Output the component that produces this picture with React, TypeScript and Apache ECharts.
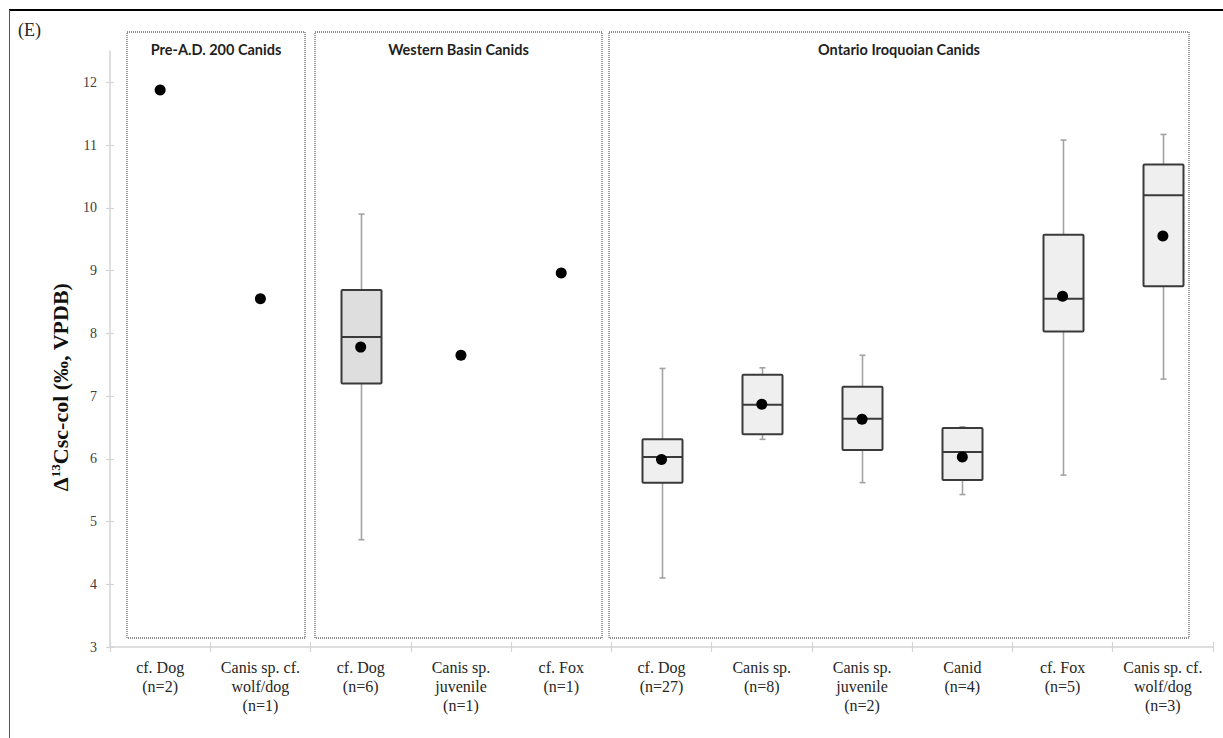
import React, { useEffect, useRef } from "react";
import * as echarts from "echarts";

// Category labels along the x axis (group order: Pre-A.D. 200, Western Basin, Ontario Iroquoian)
const categories = [
  "cf. Dog\n(n=2)",
  "Canis sp. cf.\nwolf/dog\n(n=1)",
  "cf. Dog\n(n=6)",
  "Canis sp.\njuvenile\n(n=1)",
  "cf. Fox\n(n=1)",
  "cf. Dog\n(n=27)",
  "Canis sp.\n(n=8)",
  "Canis sp.\njuvenile\n(n=2)",
  "Canid\n(n=4)",
  "cf. Fox\n(n=5)",
  "Canis sp. cf.\nwolf/dog\n(n=3)",
];

// Mean value for every category (black dots)
const means = [11.88, 8.55, 7.78, 7.65, 8.96, 5.99, 6.87, 6.63, 6.03, 8.59, 9.55];

// Box statistics: [category index, min, Q1, median, Q3, max]
const westernBoxes = [[2, 4.71, 7.2, 7.94, 8.69, 9.9]];
const ontarioBoxes = [
  [5, 4.1, 5.62, 6.03, 6.31, 7.44],
  [6, 6.31, 6.39, 6.86, 7.34, 7.45],
  [7, 5.62, 6.14, 6.64, 7.15, 7.65],
  [8, 5.43, 5.66, 6.11, 6.49, 6.51],
  [9, 5.74, 8.03, 8.55, 9.57, 11.08],
  [10, 7.27, 8.75, 10.2, 10.69, 11.17],
];

// Y axis tick labels
const yTicks = [3, 4, 5, 6, 7, 8, 9, 10, 11, 12];

// Group frames: header text and frame extents
const groupTitles = ["Pre-A.D. 200 Canids", "Western Basin Canids", "Ontario Iroquoian Canids"];
const groupFrames = [
  [127, 305],
  [315, 602],
  [609, 1189],
];

const SERIF = "Liberation Serif, Times New Roman, serif";

function boxRenderer(fill: string) {
  return (params: any, api: any) => {
    const cat = api.value(0);
    const lo = api.coord([cat, api.value(1)]);
    const q1 = api.coord([cat, api.value(2)]);
    const med = api.coord([cat, api.value(3)]);
    const q3 = api.coord([cat, api.value(4)]);
    const hi = api.coord([cat, api.value(5)]);
    const cx = Math.round(lo[0]) + 0.5;
    const half = 20;
    const cap = 3;
    const whisker = { stroke: "#a3a3a3", lineWidth: 1.6 };
    const edge = { stroke: "#3a3a3a", lineWidth: 2 };
    return {
      type: "group",
      children: [
        { type: "line", shape: { x1: cx, y1: hi[1], x2: cx, y2: lo[1] }, style: whisker },
        { type: "line", shape: { x1: cx - cap, y1: hi[1], x2: cx + cap, y2: hi[1] }, style: whisker },
        { type: "line", shape: { x1: cx - cap, y1: lo[1], x2: cx + cap, y2: lo[1] }, style: whisker },
        {
          type: "rect",
          shape: { x: cx - half, y: q3[1], width: half * 2, height: q1[1] - q3[1], r: 1 },
          style: { fill, ...edge },
        },
        { type: "line", shape: { x1: cx - half, y1: med[1], x2: cx + half, y2: med[1] }, style: edge },
      ],
    };
  };
}

export default function App() {
  const ref = useRef<HTMLDivElement>(null);

  useEffect(() => {
    if (!ref.current) return;
    const chart = echarts.init(ref.current, null, { renderer: "svg" });

    const frames: any[] = groupFrames.map(([x0, x1], i) => ({
      type: "group",
      children: [
        {
          type: "rect",
          shape: { x: x0, y: 32, width: x1 - x0, height: 606 },
          style: { fill: "none", stroke: "#6a6a6a", lineWidth: 1.3, lineDash: [1, 1] },
          z: 0,
        },
        {
          type: "text",
          x: (x0 + x1) / 2,
          y: 49,
          style: {
            text: groupTitles[i],
            fontFamily: "Lato, Open Sans, sans-serif",
            fontSize: 14.5,
            fontWeight: "bold",
            fill: "#1f1f1f",
            align: "center",
            verticalAlign: "middle",
          },
        },
      ],
    }));

    const axisGray = "#d4d4d4";

    chart.setOption({
      animation: false,
      grid: { left: 110, right: 10, top: 51, bottom: 91, containLabel: false },
      xAxis: [
        {
          type: "category",
          data: categories,
          boundaryGap: true,
          axisLine: { lineStyle: { color: axisGray, width: 1.5 } },
          axisTick: { show: true, interval: 0, length: 5, lineStyle: { color: axisGray, width: 1.2 } },
          axisLabel: {
            interval: 0,
            margin: 11,
            fontFamily: SERIF,
            fontSize: 16,
            lineHeight: 19,
            color: "#262626",
          },
        },
        {
          type: "category",
          data: categories,
          position: "bottom",
          boundaryGap: true,
          axisLine: { show: false },
          axisTick: { show: true, inside: true, interval: 0, length: 5, lineStyle: { color: axisGray, width: 1.2 } },
          axisLabel: { show: false },
        },
      ],
      yAxis: [
        {
          type: "value",
          min: 3,
          max: 12.5,
          interval: 1,
          splitLine: { show: false },
          axisLine: { show: true, lineStyle: { color: axisGray, width: 1.5 } },
          axisTick: { show: true, length: 4, customValues: yTicks, lineStyle: { color: axisGray, width: 1.2 } },
          axisLabel: {
            customValues: yTicks,
            margin: 13,
            fontFamily: SERIF,
            fontSize: 14,
            color: "#404040",
            formatter: (v: number) => (Number.isInteger(v) ? String(v) : ""),
          },
        },
        {
          type: "value",
          min: 3,
          max: 12.5,
          interval: 1,
          position: "left",
          splitLine: { show: false },
          axisLine: { show: false },
          axisTick: { show: true, inside: true, length: 4, customValues: yTicks, lineStyle: { color: axisGray, width: 1.2 } },
          axisLabel: { show: false },
        },
      ],
      series: [
        {
          type: "custom",
          name: "Western Basin",
          renderItem: boxRenderer("#dedede"),
          data: westernBoxes,
          encode: { x: 0, y: [1, 2, 3, 4, 5] },
          z: 3,
        },
        {
          type: "custom",
          name: "Ontario Iroquoian",
          renderItem: boxRenderer("#efefef"),
          data: ontarioBoxes,
          encode: { x: 0, y: [1, 2, 3, 4, 5] },
          z: 3,
        },
        {
          type: "scatter",
          name: "Mean",
          data: means.map((m, i) => [i, m]),
          symbol: "circle",
          symbolSize: 11,
          itemStyle: { color: "#000", opacity: 1 },
          z: 5,
        },
      ],
      graphic: [
        // page frame
        { type: "line", shape: { x1: 9, y1: 10, x2: 1223, y2: 10 }, style: { stroke: "#000", lineWidth: 2 } },
        { type: "line", shape: { x1: 9.5, y1: 10, x2: 9.5, y2: 738 }, style: { stroke: "#555", lineWidth: 1 } },
        {
          type: "text",
          x: 18,
          y: 30,
          style: {
            text: "(E)",
            fontFamily: SERIF,
            fontSize: 18,
            fill: "#262626",
            align: "left",
            verticalAlign: "middle",
          },
        },
        {
          type: "text",
          x: 60,
          y: 387,
          rotation: Math.PI / 2,
          style: {
            text: "{a|Δ}{b|13}{a|Csc-col (‰, VPDB)}",
            align: "center",
            verticalAlign: "middle",
            rich: {
              a: { fontFamily: SERIF, fontSize: 22, fontWeight: "bold", fill: "#111", verticalAlign: "bottom" },
              b: { fontFamily: SERIF, fontSize: 13, fontWeight: "bold", fill: "#111", verticalAlign: "top" },
            },
          },
        },
        ...frames,
      ],
    });

    return () => chart.dispose();
  }, []);

  return (
    <div
      ref={ref}
      style={{ position: "fixed", left: 0, top: 0, width: 1223, height: 738, background: "#fff" }}
    />
  );
}
